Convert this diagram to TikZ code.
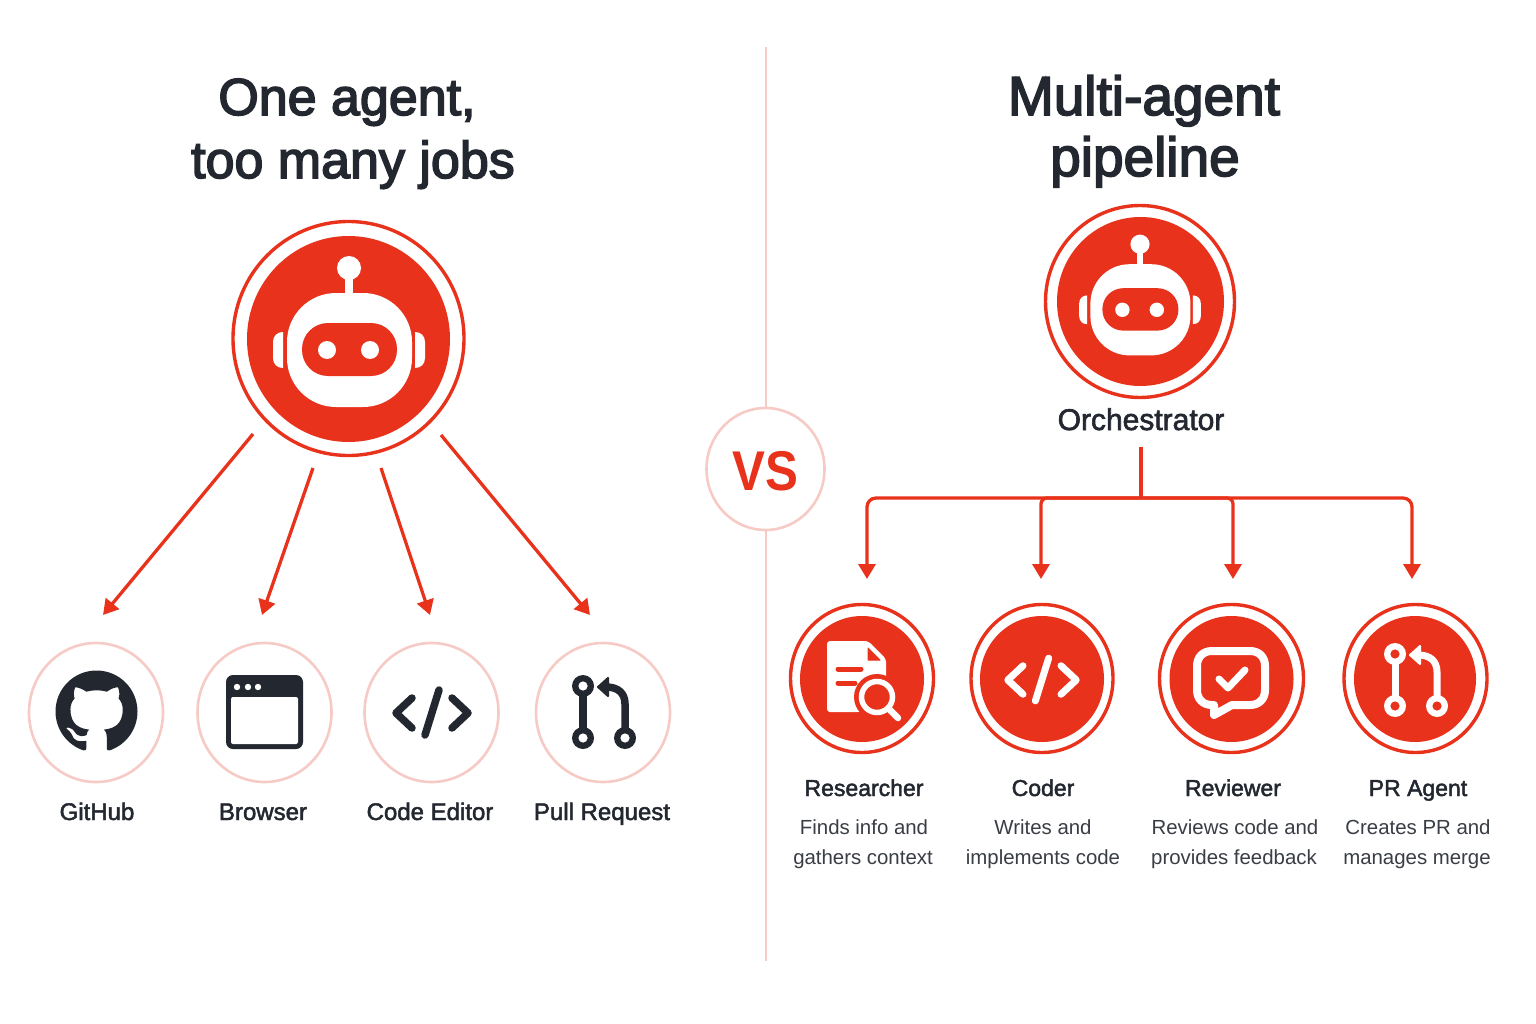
\documentclass[tikz,border=0pt]{standalone}
\usepackage{graphicx}
\usepackage{fontspec}
\setmainfont{Liberation Sans}
\newfontfamily\medf[FakeBold=3]{Liberation Sans}
\newfontfamily\labf[FakeBold=2]{Liberation Sans}
\usetikzlibrary{shapes.geometric,arrows.meta,svg.path}
\definecolor{brand}{HTML}{E9321C}
\definecolor{ink}{HTML}{23272F}
\definecolor{blush}{HTML}{F7CBC5}
\tikzset{
 every node/.style={inner sep=0pt,outer sep=0pt},
 halo/.style={ellipse,draw=blush,line width=2.6pt,fill=white},
 band/.style={ellipse,draw=brand,line width=3.4pt,fill=white},
 disc/.style={ellipse,fill=brand},
 headline/.style={anchor=base,text=ink,font=\medf\fontsize{52}{60}\selectfont},
 toollabel/.style={anchor=base,text=ink,font=\labf\fontsize{24}{28}\selectfont},
 rolelabel/.style={anchor=base,text=ink,font=\labf\fontsize{23}{28}\selectfont},
 desclabel/.style={anchor=base,text=ink!90,font=\fontsize{20.4}{25}\selectfont},
 link/.style={draw=brand,line width=3.3pt,-{Triangle[width=17pt,length=15pt]}},
 bus/.style={draw=brand,line width=3.3pt},
}
% robot: centre, scale
\newcommand\robotglyph[3]{%
 \begin{scope}[shift={(#1,#2)},scale=#3]
  \fill[white] (0,-71) circle (12);
  \fill[white] (-4,-65) rectangle (4,-40);
  \fill[white,rounded corners=49pt*#3] (-62,-46) rectangle (63,68);
  \fill[brand,rounded corners=26pt*#3] (-47,-16) rectangle (48,37);
  \fill[white] (-22,11) circle (9);
  \fill[white] (21,11) circle (9);
  \fill[white] (-66,-7) .. controls (-72,-7) and (-76,-3) .. (-76,3) -- (-76,19) .. controls (-76,25) and (-72,29) .. (-66,29) -- cycle;
  \fill[white] (66,-7) .. controls (72,-7) and (76,-3) .. (76,3) -- (76,19) .. controls (76,25) and (72,29) .. (66,29) -- cycle;
 \end{scope}}
% code: centre, scale, colour, width
\newcommand\codeglyph[5]{%
 \begin{scope}[shift={(#1,#2)},scale=#3,draw=#4,line width=#5,line cap=round,line join=round]
  \draw (-20,-15) -- (-36,0) -- (-20,15);
  \draw (7,-23) -- (-7,22);
  \draw (20,-15) -- (36,0) -- (20,15);
 \end{scope}}
% pull request: centre, scale, colour, hole colour, width
\newcommand\prglyph[6]{%
 \begin{scope}[shift={(#1,#2)},scale=#3]
  \draw[#4,line width=#6] (-21,-26) -- (-21,26);
  \draw[#4,line width=#6] (21,26) -- (21,-8) .. controls (21,-19) and (14,-25) .. (2,-25);
  \fill[#4,draw=#4,line width=2pt,line join=round] (-6,-25) -- (4,-34) -- (4,-16) -- cycle;
  \foreach \cx/\cy in {-21/-26,-21/26,21/26}{
   \fill[#4] (\cx,\cy) circle (11);
   \fill[#5] (\cx,\cy) circle (4.6);
  }
 \end{scope}}
\begin{document}
\begin{tikzpicture}[x=1pt,y=-1pt]
\useasboundingbox[fill=white] (0,0) rectangle (1536,1024);
% divider
\coordinate (dtop) at (766,47);
\coordinate (dbot) at (766,961);
\draw[blush,line width=2.4pt] (dtop) -- (dbot);
\node[halo,minimum width=118pt,minimum height=122pt] (vs) at (765.5,469) {};
\node[anchor=base,text=brand,font=\bfseries\fontsize{56}{60}\selectfont] (vstext) at (765,490) {\scalebox{0.88}[1]{VS}};
% titles
\node[headline] (t1) at (347,115) {One agent,};
\node[headline] (t2) at (353,178) {too many jobs};
\node[headline,font=\medf\fontsize{55}{60}\selectfont] (t3) at (1144,115) {Multi-agent};
\node[headline,font=\medf\fontsize{55}{60}\selectfont] (t4) at (1145,176) {pipeline};
% left agent
\node[band,minimum width=231pt,minimum height=234pt] (agent) at (348.5,338.5) {};
\node[disc,minimum width=203pt,minimum height=206pt] (agentcore) at (348.5,339) {};
\robotglyph{349}{339}{1}
% left tools
\node[halo,minimum width=134pt,minimum height=139pt] (gh) at (96,712.5) {};
\node[halo,minimum width=134pt,minimum height=139pt] (br) at (264.5,712.5) {};
\node[halo,minimum width=134pt,minimum height=139pt] (ce) at (431.5,712.5) {};
\node[halo,minimum width=134pt,minimum height=139pt] (pr) at (603,712.5) {};
\begin{scope}[shift={(55.5,670.5)},xscale=5.125,yscale=-5.125]
 \fill[ink,even odd rule] svg "M 8 0 C 3.58 0 0 3.58 0 8 c 0 3.54 2.29 6.53 5.47 7.59 c 0.4 0.07 0.55 -0.17 0.55 -0.38 c 0 -0.19 -0.01 -0.82 -0.01 -1.49 c -2.01 0.37 -2.53 -0.49 -2.69 -0.94 c -0.09 -0.23 -0.48 -0.94 -0.82 -1.13 c -0.28 -0.15 -0.68 -0.52 -0.01 -0.53 c 0.63 -0.01 1.08 0.58 1.23 0.82 c 0.72 1.21 1.87 0.87 2.33 0.66 c 0.07 -0.52 0.28 -0.87 0.51 -1.07 c -1.78 -0.2 -3.64 -0.89 -3.64 -3.95 c 0 -0.87 0.31 -1.59 0.82 -2.15 c -0.08 -0.2 -0.36 -1.02 0.08 -2.12 c 0 0 0.67 -0.21 2.2 0.82 c 0.64 -0.18 1.32 -0.27 2 -0.27 c 0.68 0 1.36 0.09 2 0.27 c 1.53 -1.04 2.2 -0.82 2.2 -0.82 c 0.44 1.1 0.16 1.92 0.08 2.12 c 0.51 0.56 0.82 1.27 0.82 2.15 c 0 3.07 -1.87 3.75 -3.65 3.95 c 0.29 0.25 0.54 0.73 0.54 1.48 c 0 1.07 -0.01 1.93 -0.01 2.2 c 0 0.21 0.15 0.46 0.55 0.38 C 13.71 14.53 16 11.53 16 8 c 0 -4.42 -3.58 -8 -8 -8 z";
\end{scope}
% browser
\fill[ink,rounded corners=7] (226,675) rectangle (303,749);
\fill[white,rounded corners=2] (231,697) rectangle (298,744);
\foreach \dx in {237,248,258}{\fill[white] (\dx,687) circle (3.2);}
\codeglyph{432}{713}{1}{ink}{7.5pt}
\prglyph{604}{712}{1}{ink}{white}{7.5pt}
\node[toollabel] (l1) at (97,820) {GitHub};
\node[toollabel] (l2) at (263,820) {Browser};
\node[toollabel] (l3) at (430,820) {Code Editor};
\node[toollabel] (l4) at (602,820) {Pull Request};
% left arrows
\coordinate (a1s) at (253,434); \coordinate (a1e) at (103,615);
\coordinate (a2s) at (313,468); \coordinate (a2e) at (262,615);
\coordinate (a3s) at (381,468); \coordinate (a3e) at (430,615);
\coordinate (a4s) at (441,435); \coordinate (a4e) at (590,615);
\draw[link] (a1s) -- (a1e);
\draw[link] (a2s) -- (a2e);
\draw[link] (a3s) -- (a3e);
\draw[link] (a4s) -- (a4e);
% orchestrator
\node[band,minimum width=189pt,minimum height=192pt] (orch) at (1140,301.5) {};
\node[disc,minimum width=167pt,minimum height=169pt] (orchcore) at (1140.5,301.5) {};
\robotglyph{1140}{301}{0.8}
\node[rolelabel,font=\labf\fontsize{30}{32}\selectfont] (orchl) at (1141,430) {Orchestrator};
% tree
\coordinate (tree0) at (1141,447);
\coordinate (tree1) at (1141,498);
\coordinate (d1) at (867,579);
\coordinate (d2) at (1041,579);
\coordinate (d3) at (1233,579);
\coordinate (d4) at (1412,579);
\draw[bus] (tree0) -- (tree1);
\draw[link,rounded corners=9] (tree1) -| (d1);
\draw[link,rounded corners=6] (tree1) -| (d2);
\draw[link,rounded corners=6] (tree1) -| (d3);
\draw[link,rounded corners=9] (tree1) -| (d4);
% role badges
\node[band,minimum width=143pt,minimum height=148pt] (r1) at (862,678.5) {};
\node[disc,minimum width=124pt,minimum height=126pt] (r1c) at (862,679) {};
\node[band,minimum width=142pt,minimum height=148pt] (r2) at (1042,678.5) {};
\node[disc,minimum width=124pt,minimum height=126pt] (r2c) at (1042,679) {};
\node[band,minimum width=144pt,minimum height=148pt] (r3) at (1231.5,678.5) {};
\node[disc,minimum width=124pt,minimum height=126pt] (r3c) at (1231.5,679) {};
\node[band,minimum width=143pt,minimum height=148pt] (r4) at (1415.5,678.5) {};
\node[disc,minimum width=122pt,minimum height=126pt] (r4c) at (1415,679) {};
% document + magnifier
\fill[white,rounded corners=3] (827,641) -- (868,641) -- (886,659) -- (886,700) -- (860,712) -- (827,712) -- cycle;
\fill[brand,line join=round,draw=brand,line width=1pt] (868,648) -- (868,660) -- (880,660) -- cycle;
\draw[brand,line width=5pt,line cap=round] (838,669) -- (861,669);
\draw[brand,line width=5pt,line cap=round] (838,683) -- (855,683);
\fill[brand] (877,697) circle (23);
\draw[white,line width=5.5pt] (877,697) circle (15.5);
\draw[white,line width=6.5pt,line cap=round] (889,709) -- (898,718);
\codeglyph{1042}{680}{0.95}{white}{7pt}
% chat bubble
\draw[white,line width=8pt,line join=round]
 (1232,705) -- (1250,705) .. controls (1259,705) and (1265,699) .. (1265,690) -- (1265,666)
 .. controls (1265,657) and (1259,651) .. (1250,651) -- (1212,651)
 .. controls (1203,651) and (1197,657) .. (1197,666) -- (1197,690)
 .. controls (1197,699) and (1203,705) .. (1212,705) -- (1214,705) -- (1214,715) -- cycle;
\draw[white,line width=7pt,line cap=round,line join=round] (1219,679) -- (1228,688) -- (1245,670);
\prglyph{1416}{680}{1}{white}{brand}{7pt}
% role texts
\node[rolelabel] (n1) at (864,796) {Researcher};
\node[rolelabel] (n2) at (1043,796) {Coder};
\node[rolelabel] (n3) at (1233,796) {Reviewer};
\node[rolelabel] (n4) at (1418,796) {PR Agent};
\node[desclabel] (e1a) at (864,834) {Finds info and};
\node[desclabel] (e1b) at (863,864) {gathers context};
\node[desclabel] (e2a) at (1043,834) {Writes and};
\node[desclabel] (e2b) at (1043,864) {implements code};
\node[desclabel] (e3a) at (1235,834) {Reviews code and};
\node[desclabel] (e3b) at (1234,864) {provides feedback};
\node[desclabel] (e4a) at (1418,834) {Creates PR and};
\node[desclabel] (e4b) at (1417,864) {manages merge};
\end{tikzpicture}
\end{document}
